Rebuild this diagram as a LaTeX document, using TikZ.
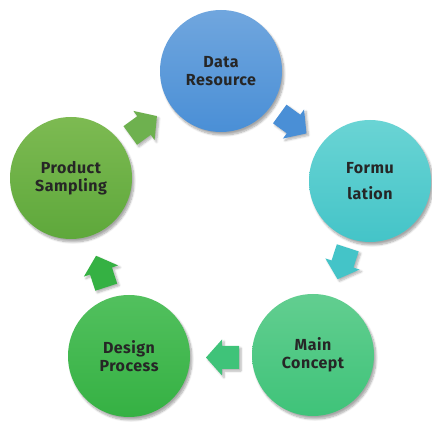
\documentclass[tikz,border=0pt]{standalone}
\usepackage{fontspec}
\setmainfont{Fira Sans}[LetterSpace=3]
\usetikzlibrary{calc,shadows.blur}
\definecolor{txt}{HTML}{262626}
\definecolor{drT}{HTML}{70A6DE}\definecolor{drB}{HTML}{4A8FD6}
\definecolor{foT}{HTML}{6AD4D4}\definecolor{foB}{HTML}{44C4C8}
\definecolor{mcT}{HTML}{62CE90}\definecolor{mcB}{HTML}{3FC379}
\definecolor{dpT}{HTML}{52C05E}\definecolor{dpB}{HTML}{35B143}
\definecolor{psT}{HTML}{7DBA52}\definecolor{psB}{HTML}{5EA83B}
\tikzset{
  stage/.style={circle, minimum size=122pt, inner sep=0pt, align=center,
    text=txt, font=\fontsize{16}{18.5}\selectfont\bfseries,
    top color=#1T, bottom color=#1B,
    blur shadow={shadow xshift=2pt, shadow yshift=-3pt, shadow opacity=35, shadow blur steps=8}},
  flowfill/.style={fill=#1,
    blur shadow={shadow xshift=2pt, shadow yshift=-2pt, shadow opacity=30, shadow blur steps=6}},
  pics/blockarrow/.style={code={
    \fill[flowfill=#1] (-17,-11.5) -- (0,-11.5) -- (0,-18) -- (16,0) -- (0,18)
      -- (0,11.5) -- (-17,11.5) -- cycle;}}
}
\begin{document}
\begin{tikzpicture}[x=1pt,y=-1pt]
\useasboundingbox (0,0) rectangle (432,422);
\node[stage=dr] (dr) at (221,71) {Data\\Resource};
\node[stage=fo] (fo) at (370,181) {Formu\\[8pt]lation};
\node[stage=mc] (mc) at (313,355) {Main\\Concept};
\node[stage=dp] (dp) at (129,356) {Design\\Process};
\node[stage=ps] (ps) at (71,178) {Product\\Sampling};
\pic[rotate=36] at ($(ps)!0.5!(dr)+(-2,1)$) {blockarrow=psB!90!white};
\pic[rotate=-36] at ($(dr)!0.5!(fo)+(-2,-2)$) {blockarrow=drB};
\pic[rotate=-108] at ($(fo)!0.5!(mc)+(1,-4)$) {blockarrow=foB};
\pic[rotate=180] at ($(mc)!0.5!(dp)+(1,2)$) {blockarrow=mcB};
\pic[rotate=108] at ($(dp)!0.5!(ps)+(1,4)$) {blockarrow=dpB};
\end{tikzpicture}
\end{document}
